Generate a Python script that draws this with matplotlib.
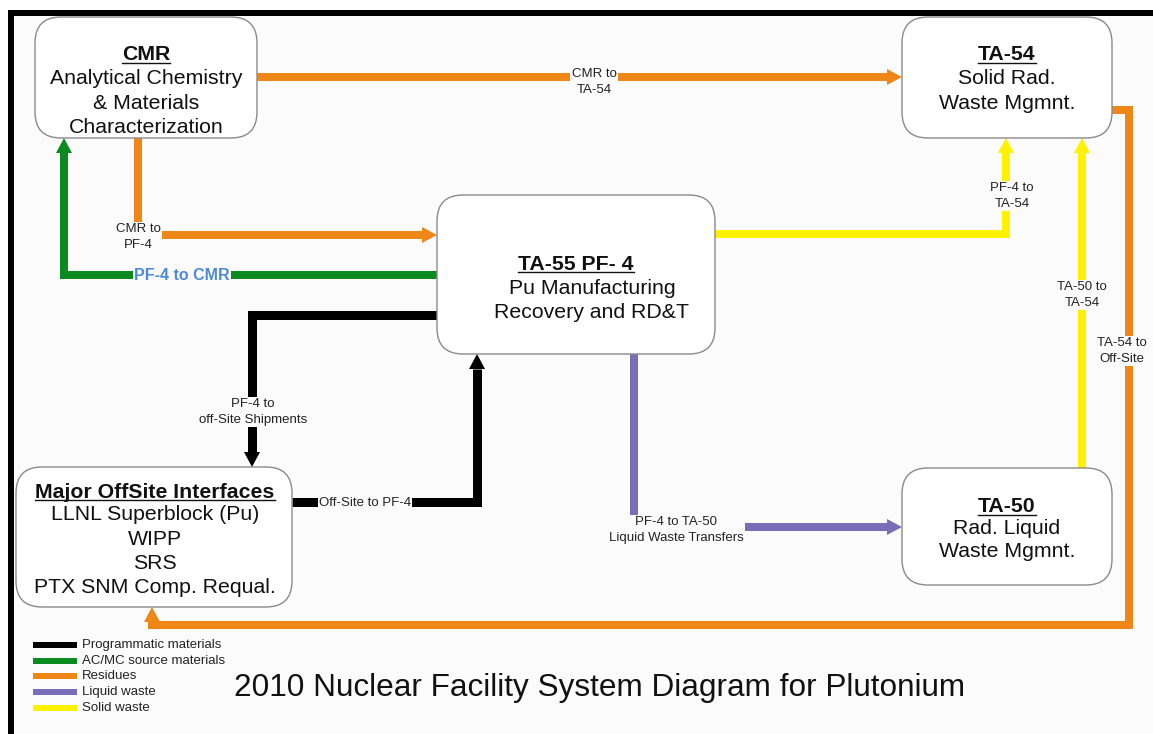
import matplotlib
matplotlib.use("Agg")
import matplotlib.pyplot as plt
from matplotlib.patches import FancyBboxPatch, Polygon, Rectangle

plt.rcParams['font.family'] = ['Liberation Sans', 'DejaVu Sans']

W, H = 1153, 734

# facility boxes, pixel extents (x0, y0, x1, y1), y grows downward
box_extents = [(35, 17, 257, 138), (902, 17, 1112, 138), (437, 195, 715, 354),
               (16, 467, 292, 607), (902, 468, 1112, 585)]
box_titles = ['CMR', 'TA-54', 'TA-55 PF- 4', 'Major OffSite Interfaces', 'TA-50']
box_lines = [['Analytical Chemistry', '& Materials', 'Characterization'],
             ['Solid Rad.', 'Waste Mgmnt.'],
             ['Pu Manufacturing', 'Recovery and RD&T'],
             ['LLNL Superblock (Pu)', 'WIPP', 'SRS', 'PTX SNM Comp. Requal.'],
             ['Rad. Liquid', 'Waste Mgmnt.']]
# (title x, title y, body x, body first y, line step)
box_text_pos = [(146, 53, 146, 79, 24.3), (1007, 53, 1007, 79, 24.5),
                (576, 262, 592, 288, 24.5), (155, 490, 155, 515, 24.2),
                (1007, 505, 1007, 528, 23.5)]

# material flows
flow_kinds = ['Residues', 'Residues', 'AC/MC source materials', 'Programmatic materials',
              'Programmatic materials', 'Liquid waste', 'Solid waste', 'Solid waste', 'Residues']
flow_paths = [
    [(257, 77), (902, 77)],
    [(138, 138), (138, 235), (437, 235)],
    [(437, 275), (64, 275), (64, 138)],
    [(437, 315), (252, 315), (252, 467)],
    [(292, 502), (477, 502), (477, 354)],
    [(634, 354), (634, 527), (902, 527)],
    [(715, 234), (1006, 234), (1006, 138)],
    [(1082, 468), (1082, 138)],
    [(1112, 110), (1129, 110), (1129, 625), (152, 625), (152, 607)],
]
flow_labels = ['CMR to\nTA-54', 'CMR to\nPF-4', 'PF-4 to CMR', 'PF-4 to\noff-Site Shipments',
               'Off-Site to PF-4', 'PF-4 to TA-50\nLiquid Waste Transfers', 'PF-4 to\nTA-54',
               'TA-50 to\nTA-54', 'TA-54 to\nOff-Site']
label_pos = [(594, 82), (138, 237), (182, 275), (253, 412), (365, 503),
             (676, 530), (1012, 196), (1082, 295), (1122, 351)]

legend_names = ['Programmatic materials', 'AC/MC source materials', 'Residues',
                'Liquid waste', 'Solid waste']
legend_colors = ['#000000', '#0b8a1f', '#ef8618', '#7a6db8', '#fff200']

title = '2010 Nuclear Facility System Diagram for Plutonium'

colour_of = dict(zip(legend_names, legend_colors))
bg = '#fbfbfb'
big = 15.3
small = 9.5

fig = plt.figure(figsize=(W / 100, H / 100), dpi=100)
ax = fig.add_axes([0, 0, 1, 1])
ax.set_xlim(0, W)
ax.set_ylim(H, 0)
ax.axis('off')
fig.patch.set_facecolor('white')

# frame
ax.add_patch(Rectangle((11, 13), W, H, facecolor=bg, edgecolor='none', zorder=0))
ax.plot([8, W], [13, 13], color='black', lw=6 * 0.72, solid_capstyle='butt', zorder=1)
ax.plot([11, 11], [10, H], color='black', lw=6 * 0.72, solid_capstyle='butt', zorder=1)


def draw_flow(path, color, lw_px=8, hw=8, hl=15):
    (xa, ya), (xb, yb) = path[-2], path[-1]
    dx, dy = xb - xa, yb - ya
    n = (dx ** 2 + dy ** 2) ** 0.5
    ux, uy = dx / n, dy / n
    base = (xb - ux * hl, yb - uy * hl)
    pts = path[:-1] + [base]
    ax.plot([p[0] for p in pts], [p[1] for p in pts], color=color, lw=lw_px * 0.72,
            solid_joinstyle='miter', solid_capstyle='butt', zorder=2)
    head = [(xb, yb), (base[0] - uy * hw, base[1] + ux * hw), (base[0] + uy * hw, base[1] - ux * hw)]
    ax.add_patch(Polygon(head, closed=True, facecolor=color, edgecolor='none', zorder=2))


for path, kind in zip(flow_paths, flow_kinds):
    c = colour_of[kind]
    if kind == 'Programmatic materials':
        draw_flow(path, c, lw_px=9, hw=8, hl=15)
    else:
        draw_flow(path, c)

for lab, (x, y), kind in zip(flow_labels, label_pos, flow_kinds):
    if lab == 'PF-4 to CMR':
        ax.text(x, y, lab, ha='center', va='center', fontsize=11.5, fontweight='bold',
                color='#4a8ad8', zorder=3,
                bbox=dict(boxstyle='square,pad=0.1', facecolor=bg, edgecolor='none'))
    else:
        ax.text(x, y, lab, ha='center', va='center', fontsize=small, color='#222222',
                linespacing=1.4, zorder=3,
                bbox=dict(boxstyle='square,pad=0.1', facecolor=bg, edgecolor='none'))

# boxes
fig.canvas.draw()
renderer = fig.canvas.get_renderer()
for (x0, y0, x1, y1), ttl, lines, (tx, ty, bx, by, step) in zip(
        box_extents, box_titles, box_lines, box_text_pos):
    ax.add_patch(FancyBboxPatch((x0, y0), x1 - x0, y1 - y0,
                                boxstyle='round,pad=0,rounding_size=26',
                                facecolor='white', edgecolor='#8a8a8a', lw=1.0, zorder=4))
    t = ax.text(tx, ty + 7.5, ttl, ha='center', va='baseline', fontsize=big,
                fontweight='bold', color='#111111', zorder=5)
    ext = t.get_window_extent(renderer)
    ax.plot([ext.x0, ext.x1], [ty + 10, ty + 10], color='#111111', lw=1.0, zorder=5)
    for i, line in enumerate(lines):
        ax.text(bx, by + i * step, line, ha='center', va='center', fontsize=big,
                color='#111111', zorder=5)

# legend
for i, (name, c) in enumerate(zip(legend_names, legend_colors)):
    y = 645 + i * 15.7
    ax.plot([33, 77], [y, y], color=c, lw=6 * 0.72, solid_capstyle='butt', zorder=3)
    ax.text(82, y, name, ha='left', va='center', fontsize=small, color='#222222', zorder=3)

ax.text(600, 688, title, ha='center', va='center', fontsize=22.7, color='#111111', zorder=3)

fig.savefig('out.png', dpi=100, facecolor='white')
